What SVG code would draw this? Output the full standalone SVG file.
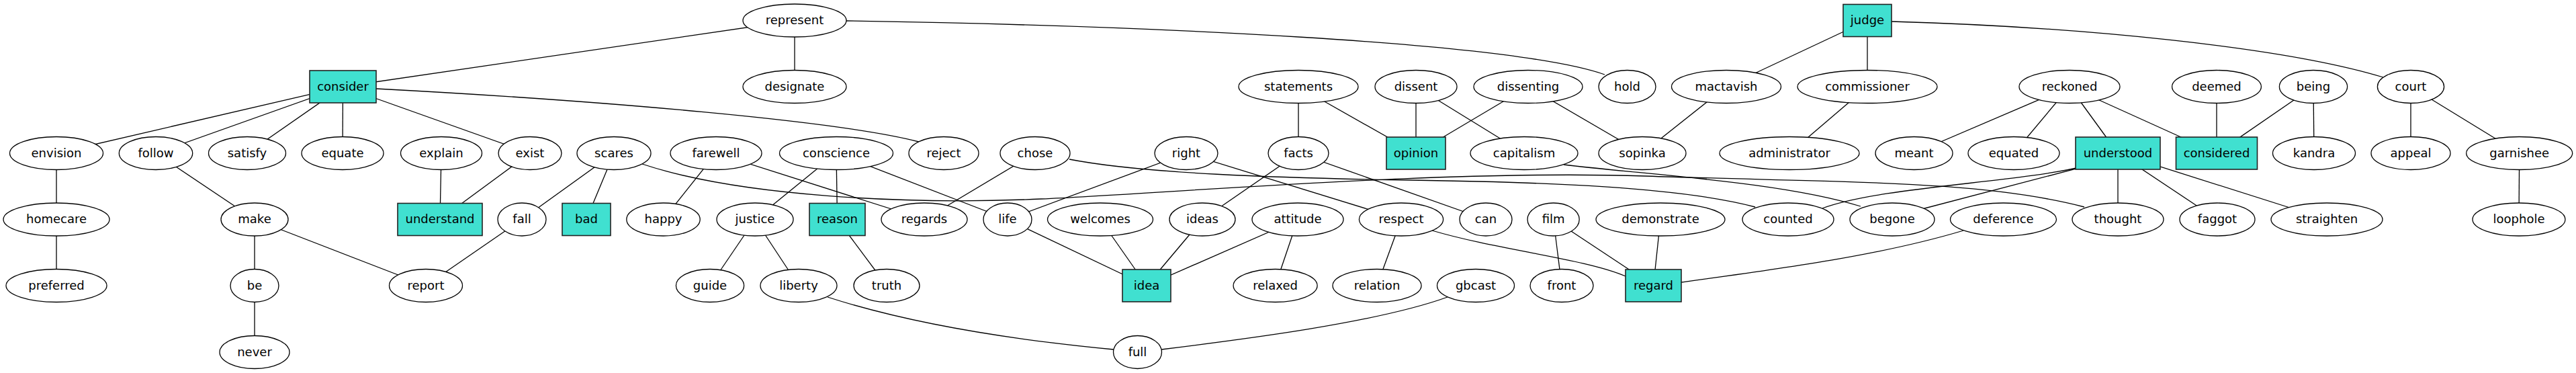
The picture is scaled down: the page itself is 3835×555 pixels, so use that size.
<svg xmlns="http://www.w3.org/2000/svg" width="3835" height="555" viewBox="0 0 3835 555">
<style>
.e line,.e path{stroke:#000;stroke-width:1.3;fill:none}
ellipse{fill:#fff;stroke:#000;stroke-width:1.3}
rect{fill:#40e0d0;stroke:#222;stroke-width:1.6}
text{font-family:"DejaVu Sans",Verdana,sans-serif;font-size:18px;text-anchor:middle;fill:#000}
</style>
<rect x="0" y="0" width="3835" height="555" style="fill:#fff;stroke:none"/>
<g id="connectors" class="e">
<line x1="1183" y1="30.5" x2="510.5" y2="129"/>
<line x1="1183" y1="30.5" x2="1183" y2="129"/>
<path d="M1260,31 C1700,38 2250,62 2389,111"/>
<path d="M560,132 C900,150 1250,180 1368,211"/>
<line x1="510.5" y1="129" x2="84" y2="228"/>
<line x1="510.5" y1="129" x2="232" y2="228"/>
<line x1="510.5" y1="129" x2="368" y2="228"/>
<line x1="510.5" y1="129" x2="510" y2="228"/>
<line x1="510.5" y1="129" x2="789" y2="228"/>
<line x1="657" y1="228" x2="655" y2="326.5"/>
<line x1="789" y1="228" x2="655" y2="326.5"/>
<line x1="84" y1="228" x2="84" y2="326.5"/>
<line x1="84" y1="326.5" x2="84" y2="425"/>
<line x1="232" y1="228" x2="379" y2="326.5"/>
<line x1="379" y1="326.5" x2="379" y2="425"/>
<line x1="379" y1="425" x2="379" y2="524"/>
<line x1="379" y1="326.5" x2="634" y2="425"/>
<line x1="777" y1="326.5" x2="634" y2="425"/>
<line x1="914" y1="228" x2="777" y2="326.5"/>
<line x1="914" y1="228" x2="873" y2="326.5"/>
<line x1="1066" y1="228" x2="987.5" y2="326.5"/>
<line x1="1066" y1="228" x2="1376" y2="326.5"/>
<line x1="1245" y1="228" x2="1124" y2="326.5"/>
<line x1="1245" y1="228" x2="1246.5" y2="326.5"/>
<line x1="1245" y1="228" x2="1500" y2="326.5"/>
<line x1="1124" y1="326.5" x2="1057" y2="425"/>
<line x1="1124" y1="326.5" x2="1189" y2="425"/>
<line x1="1246.5" y1="326.5" x2="1320" y2="425"/>
<line x1="1541" y1="228" x2="1376" y2="326.5"/>
<line x1="1766" y1="228" x2="1500" y2="326.5"/>
<line x1="1766" y1="228" x2="2086" y2="326.5"/>
<line x1="1933" y1="228" x2="1790" y2="326.5"/>
<line x1="1933" y1="228" x2="2212" y2="326.5"/>
<line x1="1933" y1="129" x2="1933" y2="228"/>
<line x1="1933" y1="129" x2="2108" y2="228"/>
<line x1="2108" y1="129" x2="2108" y2="228"/>
<line x1="2108" y1="129" x2="2269" y2="228"/>
<line x1="2275" y1="129" x2="2108" y2="228"/>
<line x1="2275" y1="129" x2="2445" y2="228"/>
<line x1="2570" y1="129" x2="2445" y2="228"/>
<line x1="2780" y1="30.5" x2="2570" y2="129"/>
<line x1="2780" y1="30.5" x2="2780" y2="129"/>
<path d="M2816,32 C3100,40 3400,70 3548,115"/>
<line x1="2780" y1="129" x2="2664" y2="228"/>
<line x1="3081" y1="129" x2="2849.5" y2="228"/>
<line x1="3081" y1="129" x2="2998" y2="228"/>
<line x1="3081" y1="129" x2="3153" y2="228"/>
<line x1="3081" y1="129" x2="3300" y2="228"/>
<line x1="3300" y1="129" x2="3300" y2="228"/>
<line x1="3444" y1="129" x2="3300" y2="228"/>
<line x1="3444" y1="129" x2="3445" y2="228"/>
<line x1="3589" y1="129" x2="3589" y2="228"/>
<line x1="3589" y1="129" x2="3750.7" y2="228"/>
<line x1="3750.7" y1="228" x2="3750" y2="326.5"/>
<line x1="3153" y1="228" x2="3153" y2="326.5"/>
<line x1="3153" y1="228" x2="3301" y2="326.5"/>
<line x1="3153" y1="228" x2="3464" y2="326.5"/>
<line x1="3110" y1="246" x2="2850" y2="314"/>
<path d="M3100,248 C3000,272 2800,278 2713,310"/>
<path d="M956,244 C1100,292 1350,305 1550,296 S2150,252 2450,262 S2950,268 3103,308"/>
<path d="M1592,237 C1700,258 1900,265 2100,268 S2500,278 2613,308"/>
<path d="M2328,245 C2450,260 2650,270 2770,307"/>
<line x1="1500" y1="326.5" x2="1707" y2="425"/>
<line x1="1638" y1="326.5" x2="1707" y2="425"/>
<line x1="1790" y1="326.5" x2="1707" y2="425"/>
<line x1="1932" y1="326.5" x2="1707" y2="425"/>
<line x1="1932" y1="326.5" x2="1898.6" y2="425"/>
<line x1="2086" y1="326.5" x2="2050" y2="425"/>
<path d="M2132,343 C2230,372 2360,385 2420,411"/>
<line x1="2312.6" y1="326.5" x2="2325" y2="425"/>
<line x1="2312.6" y1="326.5" x2="2461.5" y2="425"/>
<line x1="2472" y1="326.5" x2="2461.5" y2="425"/>
<path d="M2923,343 C2800,380 2650,400 2503,420"/>
<path d="M1232,442 C1350,480 1500,505 1658,520"/>
<path d="M2155,442 C2050,480 1850,505 1729,520"/>
</g>
<g id="n-represent"><ellipse cx="1183" cy="30.5" rx="77" ry="24.5"/><text x="1183" y="36">represent</text></g>
<g id="n-judge"><rect x="2744" y="6.5" width="72" height="48"/><text x="2780" y="36">judge</text></g>
<g id="n-consider"><rect x="461" y="105" width="99" height="48"/><text x="510.5" y="134.5">consider</text></g>
<g id="n-designate"><ellipse cx="1183" cy="129" rx="77" ry="24.5"/><text x="1183" y="134.5">designate</text></g>
<g id="n-statements"><ellipse cx="1933" cy="129" rx="89" ry="24.5"/><text x="1933" y="134.5">statements</text></g>
<g id="n-dissent"><ellipse cx="2108" cy="129" rx="61" ry="24.5"/><text x="2108" y="134.5">dissent</text></g>
<g id="n-dissenting"><ellipse cx="2275" cy="129" rx="81" ry="24.5"/><text x="2275" y="134.5">dissenting</text></g>
<g id="n-hold"><ellipse cx="2422.5" cy="129" rx="42.5" ry="24.5"/><text x="2422.5" y="134.5">hold</text></g>
<g id="n-mactavish"><ellipse cx="2570" cy="129" rx="81.5" ry="24.5"/><text x="2570" y="134.5">mactavish</text></g>
<g id="n-commissioner"><ellipse cx="2780" cy="129" rx="104" ry="24.5"/><text x="2780" y="134.5">commissioner</text></g>
<g id="n-reckoned"><ellipse cx="3081" cy="129" rx="75" ry="24.5"/><text x="3081" y="134.5">reckoned</text></g>
<g id="n-deemed"><ellipse cx="3300" cy="129" rx="66.4" ry="24.5"/><text x="3300" y="134.5">deemed</text></g>
<g id="n-being"><ellipse cx="3444" cy="129" rx="50.6" ry="24.5"/><text x="3444" y="134.5">being</text></g>
<g id="n-court"><ellipse cx="3589" cy="129" rx="49.6" ry="24.5"/><text x="3589" y="134.5">court</text></g>
<g id="n-envision"><ellipse cx="84" cy="228" rx="69.5" ry="24.5"/><text x="84" y="233.5">envision</text></g>
<g id="n-follow"><ellipse cx="232" cy="228" rx="54.7" ry="24.5"/><text x="232" y="233.5">follow</text></g>
<g id="n-satisfy"><ellipse cx="368" cy="228" rx="57.5" ry="24.5"/><text x="368" y="233.5">satisfy</text></g>
<g id="n-equate"><ellipse cx="510" cy="228" rx="61" ry="24.5"/><text x="510" y="233.5">equate</text></g>
<g id="n-explain"><ellipse cx="657" cy="228" rx="60.5" ry="24.5"/><text x="657" y="233.5">explain</text></g>
<g id="n-exist"><ellipse cx="789" cy="228" rx="47" ry="24.5"/><text x="789" y="233.5">exist</text></g>
<g id="n-scares"><ellipse cx="914" cy="228" rx="55" ry="24.5"/><text x="914" y="233.5">scares</text></g>
<g id="n-farewell"><ellipse cx="1066" cy="228" rx="68" ry="24.5"/><text x="1066" y="233.5">farewell</text></g>
<g id="n-conscience"><ellipse cx="1245" cy="228" rx="84.5" ry="24.5"/><text x="1245" y="233.5">conscience</text></g>
<g id="n-reject"><ellipse cx="1405" cy="228" rx="52" ry="24.5"/><text x="1405" y="233.5">reject</text></g>
<g id="n-chose"><ellipse cx="1541" cy="228" rx="52" ry="24.5"/><text x="1541" y="233.5">chose</text></g>
<g id="n-right"><ellipse cx="1766" cy="228" rx="47" ry="24.5"/><text x="1766" y="233.5">right</text></g>
<g id="n-facts"><ellipse cx="1933" cy="228" rx="45" ry="24.5"/><text x="1933" y="233.5">facts</text></g>
<g id="n-opinion"><rect x="2064" y="204" width="88" height="48"/><text x="2108" y="233.5">opinion</text></g>
<g id="n-capitalism"><ellipse cx="2269" cy="228" rx="80" ry="24.5"/><text x="2269" y="233.5">capitalism</text></g>
<g id="n-sopinka"><ellipse cx="2445" cy="228" rx="65" ry="24.5"/><text x="2445" y="233.5">sopinka</text></g>
<g id="n-administrator"><ellipse cx="2664" cy="228" rx="104" ry="24.5"/><text x="2664" y="233.5">administrator</text></g>
<g id="n-meant"><ellipse cx="2849.5" cy="228" rx="57.5" ry="24.5"/><text x="2849.5" y="233.5">meant</text></g>
<g id="n-equated"><ellipse cx="2998" cy="228" rx="68" ry="24.5"/><text x="2998" y="233.5">equated</text></g>
<g id="n-understood"><rect x="3090" y="204" width="126" height="48"/><text x="3153" y="233.5">understood</text></g>
<g id="n-considered"><rect x="3239.5" y="204" width="121" height="48"/><text x="3300" y="233.5">considered</text></g>
<g id="n-kandra"><ellipse cx="3445" cy="228" rx="61.5" ry="24.5"/><text x="3445" y="233.5">kandra</text></g>
<g id="n-appeal"><ellipse cx="3589" cy="228" rx="59" ry="24.5"/><text x="3589" y="233.5">appeal</text></g>
<g id="n-garnishee"><ellipse cx="3750.7" cy="228" rx="79" ry="24.5"/><text x="3750.7" y="233.5">garnishee</text></g>
<g id="n-homecare"><ellipse cx="84" cy="326.5" rx="79" ry="24.5"/><text x="84" y="332">homecare</text></g>
<g id="n-make"><ellipse cx="379" cy="326.5" rx="50" ry="24.5"/><text x="379" y="332">make</text></g>
<g id="n-understand"><rect x="592" y="302.5" width="126" height="48"/><text x="655" y="332">understand</text></g>
<g id="n-fall"><ellipse cx="777" cy="326.5" rx="36" ry="24.5"/><text x="777" y="332">fall</text></g>
<g id="n-bad"><rect x="837" y="302.5" width="72" height="48"/><text x="873" y="332">bad</text></g>
<g id="n-happy"><ellipse cx="987.5" cy="326.5" rx="54.7" ry="24.5"/><text x="987.5" y="332">happy</text></g>
<g id="n-justice"><ellipse cx="1124" cy="326.5" rx="57" ry="24.5"/><text x="1124" y="332">justice</text></g>
<g id="n-reason"><rect x="1205" y="302.5" width="83" height="48"/><text x="1246.5" y="332">reason</text></g>
<g id="n-regards"><ellipse cx="1376" cy="326.5" rx="64" ry="24.5"/><text x="1376" y="332">regards</text></g>
<g id="n-life"><ellipse cx="1500" cy="326.5" rx="36" ry="24.5"/><text x="1500" y="332">life</text></g>
<g id="n-welcomes"><ellipse cx="1638" cy="326.5" rx="78.5" ry="24.5"/><text x="1638" y="332">welcomes</text></g>
<g id="n-ideas"><ellipse cx="1790" cy="326.5" rx="49" ry="24.5"/><text x="1790" y="332">ideas</text></g>
<g id="n-attitude"><ellipse cx="1932" cy="326.5" rx="68" ry="24.5"/><text x="1932" y="332">attitude</text></g>
<g id="n-respect"><ellipse cx="2086" cy="326.5" rx="62.6" ry="24.5"/><text x="2086" y="332">respect</text></g>
<g id="n-can"><ellipse cx="2212" cy="326.5" rx="39" ry="24.5"/><text x="2212" y="332">can</text></g>
<g id="n-film"><ellipse cx="2312.6" cy="326.5" rx="38.6" ry="24.5"/><text x="2312.6" y="332">film</text></g>
<g id="n-demonstrate"><ellipse cx="2472" cy="326.5" rx="96" ry="24.5"/><text x="2472" y="332">demonstrate</text></g>
<g id="n-counted"><ellipse cx="2662" cy="326.5" rx="68" ry="24.5"/><text x="2662" y="332">counted</text></g>
<g id="n-begone"><ellipse cx="2817" cy="326.5" rx="63" ry="24.5"/><text x="2817" y="332">begone</text></g>
<g id="n-deference"><ellipse cx="2982.5" cy="326.5" rx="79" ry="24.5"/><text x="2982.5" y="332">deference</text></g>
<g id="n-thought"><ellipse cx="3153" cy="326.5" rx="68" ry="24.5"/><text x="3153" y="332">thought</text></g>
<g id="n-faggot"><ellipse cx="3301" cy="326.5" rx="56" ry="24.5"/><text x="3301" y="332">faggot</text></g>
<g id="n-straighten"><ellipse cx="3464" cy="326.5" rx="83" ry="24.5"/><text x="3464" y="332">straighten</text></g>
<g id="n-loophole"><ellipse cx="3750" cy="326.5" rx="69" ry="24.5"/><text x="3750" y="332">loophole</text></g>
<g id="n-preferred"><ellipse cx="84" cy="425" rx="75" ry="24.5"/><text x="84" y="430.5">preferred</text></g>
<g id="n-be"><ellipse cx="379" cy="425" rx="36" ry="24.5"/><text x="379" y="430.5">be</text></g>
<g id="n-report"><ellipse cx="634" cy="425" rx="54.5" ry="24.5"/><text x="634" y="430.5">report</text></g>
<g id="n-guide"><ellipse cx="1057" cy="425" rx="50.6" ry="24.5"/><text x="1057" y="430.5">guide</text></g>
<g id="n-liberty"><ellipse cx="1189" cy="425" rx="57" ry="24.5"/><text x="1189" y="430.5">liberty</text></g>
<g id="n-truth"><ellipse cx="1320" cy="425" rx="49" ry="24.5"/><text x="1320" y="430.5">truth</text></g>
<g id="n-idea"><rect x="1671" y="401" width="72" height="48"/><text x="1707" y="430.5">idea</text></g>
<g id="n-relaxed"><ellipse cx="1898.6" cy="425" rx="62.5" ry="24.5"/><text x="1898.6" y="430.5">relaxed</text></g>
<g id="n-relation"><ellipse cx="2050" cy="425" rx="66" ry="24.5"/><text x="2050" y="430.5">relation</text></g>
<g id="n-gbcast"><ellipse cx="2197" cy="425" rx="57.5" ry="24.5"/><text x="2197" y="430.5">gbcast</text></g>
<g id="n-front"><ellipse cx="2325" cy="425" rx="47" ry="24.5"/><text x="2325" y="430.5">front</text></g>
<g id="n-regard"><rect x="2420" y="401" width="83" height="48"/><text x="2461.5" y="430.5">regard</text></g>
<g id="n-never"><ellipse cx="379" cy="524" rx="52" ry="24.5"/><text x="379" y="529.5">never</text></g>
<g id="n-full"><ellipse cx="1693.5" cy="524" rx="36" ry="24.5"/><text x="1693.5" y="529.5">full</text></g>
</svg>
